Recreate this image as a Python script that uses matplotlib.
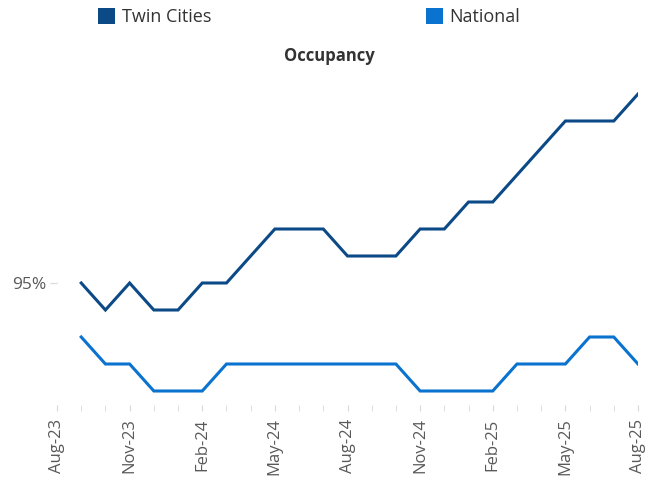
import matplotlib
matplotlib.use("Agg")
import matplotlib.pyplot as plt
from matplotlib.patches import Patch
import numpy as np

months = ["Aug-23", "Sep-23", "Oct-23", "Nov-23", "Dec-23", "Jan-24", "Feb-24", "Mar-24",
          "Apr-24", "May-24", "Jun-24", "Jul-24", "Aug-24", "Sep-24", "Oct-24", "Nov-24",
          "Dec-24", "Jan-25", "Feb-25", "Mar-25", "Apr-25", "May-25", "Jun-25", "Jul-25", "Aug-25"]
twin_cities = [np.nan, 95.0, 94.9, 95.0, 94.9, 94.9, 95.0, 95.0, 95.1, 95.2, 95.2, 95.2, 95.1,
               95.1, 95.1, 95.2, 95.2, 95.3, 95.3, 95.4, 95.5, 95.6, 95.6, 95.6, 95.7]
national = [np.nan, 94.8, 94.7, 94.7, 94.6, 94.6, 94.6, 94.7, 94.7, 94.7, 94.7, 94.7, 94.7,
            94.7, 94.7, 94.6, 94.6, 94.6, 94.6, 94.7, 94.7, 94.7, 94.8, 94.8, 94.7]
ytick_vals = [95.0]
ytick_labels = ["95%"]

c_tc = "#0B4A86"
c_nat = "#0A72CF"
gray = "#595959"
font = ["Open Sans", "DejaVu Sans"]
plt.rcParams["font.family"] = font

W, H = 647, 480
fig = plt.figure(figsize=(W / 100, H / 100), dpi=100)
left_px, right_px = 57, 638
bottom_px, top_px = 404.5, 67
ax = fig.add_axes([left_px / W, 1 - bottom_px / H, (right_px - left_px) / W, (bottom_px - top_px) / H])

x = np.arange(len(months))
ax.plot(x, twin_cities, color=c_tc, lw=2.2, solid_joinstyle="miter")
ax.plot(x, national, color=c_nat, lw=2.2, solid_joinstyle="miter")

ax.set_xlim(0, len(months) - 1)
ax.set_ylim(94.55, 95.8)
for s in ax.spines.values():
    s.set_visible(False)
ax.set_facecolor("none")

ax.set_xticks(x[::3])
ax.set_xticklabels(months[::3], rotation=90, fontsize=12, color=gray)
ax.set_xticks(x, minor=True)
ax.tick_params(axis="x", which="both", length=4, color="#D9D9D9", pad=6)
ax.set_yticks(ytick_vals)
ax.set_yticklabels(ytick_labels, fontsize=12.5, color=gray)
ax.tick_params(axis="y", length=5, color="#D9D9D9", pad=3)

fig.text(329 / W, 1 - 56 / H, "Occupancy", fontsize=12, fontweight="bold", color="#333333",
         ha="center", va="center")

handles = [Patch(facecolor=c_tc, edgecolor="none"), Patch(facecolor=c_nat, edgecolor="none")]
fig.legend(handles, ["Twin Cities", "National"], ncol=2, loc="center left",
           bbox_to_anchor=(82 / W, 1 - 17 / H), frameon=False, fontsize=13,
           handlelength=0.95, handleheight=0.95, handletextpad=0.35, columnspacing=11.9,
           labelcolor="#333333")

fig.savefig("out.png", dpi=100)
